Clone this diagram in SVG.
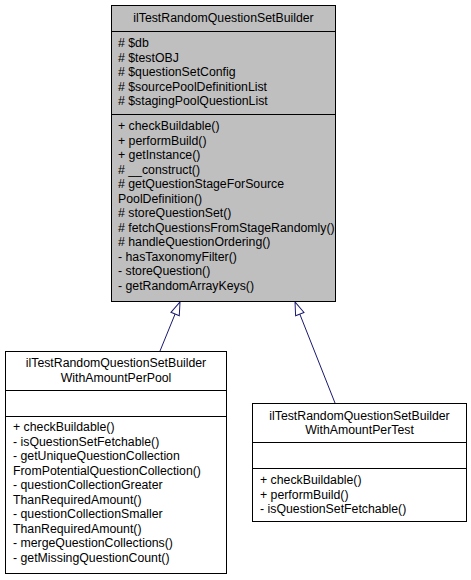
<svg xmlns="http://www.w3.org/2000/svg" width="471" height="580" viewBox="0 0 471 580">
<style>
  text { font-family: "Liberation Sans", Arial, Helvetica, sans-serif; font-size: 12.3px; fill: #000; }
  .c { text-anchor: middle; }
  .box { stroke: #000; stroke-width: 1; }
  .main { fill: #bfbfbf; }
  .plain { fill: #fff; }
  .sep { stroke: #000; stroke-width: 1; fill: none; }
  .edge { stroke: #191970; stroke-width: 1; fill: none; marker-end: url(#inh); }
</style>
<defs>
  <marker id="inh" markerUnits="userSpaceOnUse" markerWidth="16" markerHeight="12" refX="0" refY="6" orient="auto" viewBox="-1 0 16 12">
    <path d="M0,1.5 L13,6 L0,10.5 Z" fill="#fff" stroke="#191970" stroke-width="1"/>
  </marker>
</defs>
<rect width="471" height="580" fill="#fff"/>
<g id="connectors">
  <path class="edge" d="M160,351 L175.1,314"/>
  <path class="edge" d="M335,403 L299.8,314.1"/>
</g>
<g id="node-base">
  <rect class="box main" x="111.5" y="5.5" width="224" height="296"/>
  <line class="sep" x1="111.5" y1="31.5" x2="335.5" y2="31.5"/>
  <line class="sep" x1="111.5" y1="114.5" x2="335.5" y2="114.5"/>
  <text class="c" x="223.5" y="22">ilTestRandomQuestionSetBuilder</text>
  <text x="118" y="47"># $db</text>
  <text x="118" y="61.5"># $testOBJ</text>
  <text x="118" y="76"># $questionSetConfig</text>
  <text x="118" y="90.5"># $sourcePoolDefinitionList</text>
  <text x="118" y="105"># $stagingPoolQuestionList</text>
  <text x="118" y="130">+ checkBuildable()</text>
  <text x="118" y="144.5">+ performBuild()</text>
  <text x="118" y="159">+ getInstance()</text>
  <text x="118" y="173.5"># __construct()</text>
  <text x="118" y="188"># getQuestionStageForSource</text>
  <text x="118" y="202.5">PoolDefinition()</text>
  <text x="118" y="217"># storeQuestionSet()</text>
  <text x="118" y="231.5"># fetchQuestionsFromStageRandomly()</text>
  <text x="118" y="246"># handleQuestionOrdering()</text>
  <text x="118" y="260.5">- hasTaxonomyFilter()</text>
  <text x="118" y="275">- storeQuestion()</text>
  <text x="118" y="289.5">- getRandomArrayKeys()</text>
</g>
<g id="node-perpool">
  <rect class="box plain" x="5.5" y="351.5" width="221" height="222"/>
  <line class="sep" x1="5.5" y1="390.5" x2="226.5" y2="390.5"/>
  <line class="sep" x1="5.5" y1="416.5" x2="226.5" y2="416.5"/>
  <text class="c" x="116" y="367">ilTestRandomQuestionSetBuilder</text>
  <text class="c" x="116" y="381.5">WithAmountPerPool</text>
  <text x="13" y="431">+ checkBuildable()</text>
  <text x="13" y="445.5">- isQuestionSetFetchable()</text>
  <text x="13" y="460">- getUniqueQuestionCollection</text>
  <text x="13" y="474.5">FromPotentialQuestionCollection()</text>
  <text x="13" y="489">- questionCollectionGreater</text>
  <text x="13" y="503.5">ThanRequiredAmount()</text>
  <text x="13" y="518">- questionCollectionSmaller</text>
  <text x="13" y="532.5">ThanRequiredAmount()</text>
  <text x="13" y="547">- mergeQuestionCollections()</text>
  <text x="13" y="561.5">- getMissingQuestionCount()</text>
</g>
<g id="node-pertest">
  <rect class="box plain" x="252.5" y="403.5" width="214" height="118"/>
  <line class="sep" x1="252.5" y1="442.5" x2="466.5" y2="442.5"/>
  <line class="sep" x1="252.5" y1="468.5" x2="466.5" y2="468.5"/>
  <text class="c" x="359.5" y="419.5">ilTestRandomQuestionSetBuilder</text>
  <text class="c" x="359.5" y="434">WithAmountPerTest</text>
  <text x="260" y="484">+ checkBuildable()</text>
  <text x="260" y="498.5">+ performBuild()</text>
  <text x="260" y="513">- isQuestionSetFetchable()</text>
</g>
</svg>
